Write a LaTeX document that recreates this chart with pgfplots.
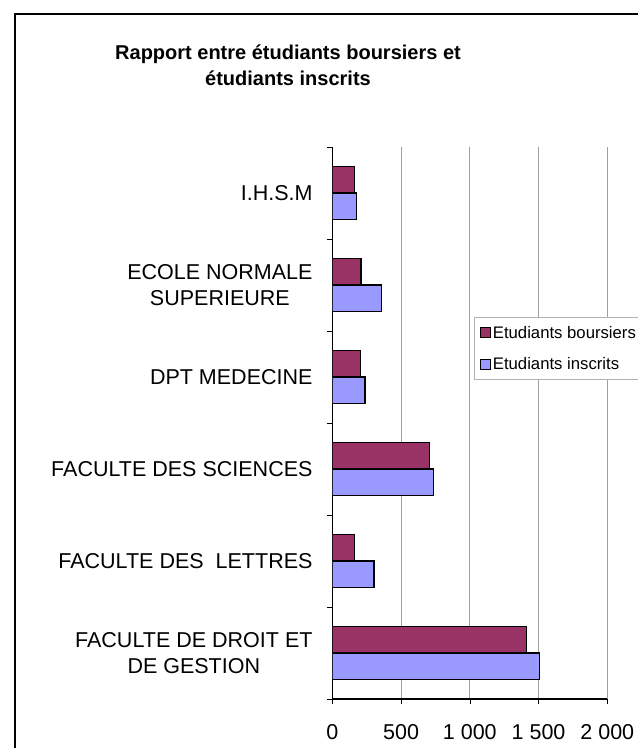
\documentclass[border=0pt]{standalone}
\usepackage{pgfplots}
\pgfplotsset{compat=1.18}
\usepackage{fontspec}
\setmainfont{Liberation Sans}
\definecolor{bours}{HTML}{993366}
\definecolor{inscr}{HTML}{9999FF}
\begin{document}
\begin{tikzpicture}[x=1bp,y=1bp]
\path[use as bounding box, clip] (0,0) rectangle (638,748);
\fill[white] (0,0) rectangle (638,748);
\draw[line width=1.3bp] (15,-20) -- (15,734) -- (660,734);
\node[font=\fontsize{20bp}{26bp}\selectfont\bfseries, align=center] at (288,683) {Rapport entre étudiants boursiers et\\étudiants inscrits};
\begin{axis}[
  at={(332.3bp,49bp)}, anchor=south west,
  scale only axis, width=275bp, height=552bp,
  xmin=0, xmax=2000, ymin=-0.5, ymax=5.5,
  axis x line=bottom, axis y line=left,
  axis line style={-, line width=1.2bp, black},
  tick align=outside, major tick length=5bp,
  tick style={black, line width=0.6bp},
  xtick={0,500,1000,1500,2000},
  xticklabels={0,500,1 000,1 500,2 000},
  ytick={-0.5,0.5,1.5,2.5,3.5,4.5,5.5},
  y tick label as interval,
  yticklabels={{FACULTE DE DROIT ET\\DE GESTION},{FACULTE DES~ LETTRES},{FACULTE DES SCIENCES},{DPT MEDECINE},{ECOLE NORMALE\\SUPERIEURE},{I.H.S.M}},
  tick label style={font=\fontsize{21.5bp}{25.7bp}\selectfont},
  yticklabel style={align=center, xshift=-11.3bp},
  xticklabel style={yshift=-17bp},
  /pgf/number format/assume math mode=true,
  xmajorgrids, major grid style={gray!75, line width=0.8bp},
  legend cell align=left,
  legend style={at={(0.515,0.692)}, anchor=north west, draw=gray!60, line width=0.8bp,
    font=\fontsize{16.7bp}{19bp}\selectfont, row sep=16.2bp,
    inner xsep=6bp, inner ysep=7.5bp,
    nodes={inner xsep=1.5bp, inner ysep=1bp}},
  legend image code/.code={\draw[#1, line width=1.1bp] (0bp,-5bp) rectangle (10bp,5bp);},
]
\addplot[xbar, bar width=26.7bp, bar shift=13.3bp, fill=bours, draw=black, line width=1.2bp]
  coordinates {(1414,0) (160,1) (708,2) (206,3) (209,4) (162,5)};
\addlegendentry{Etudiants boursiers}
\addplot[xbar, bar width=26.7bp, bar shift=-13.3bp, fill=inscr, draw=black, line width=1.2bp]
  coordinates {(1505,0) (303,1) (737,2) (238,3) (359,4) (177,5)};
\addlegendentry{Etudiants inscrits}
\end{axis}
\end{tikzpicture}
\end{document}
